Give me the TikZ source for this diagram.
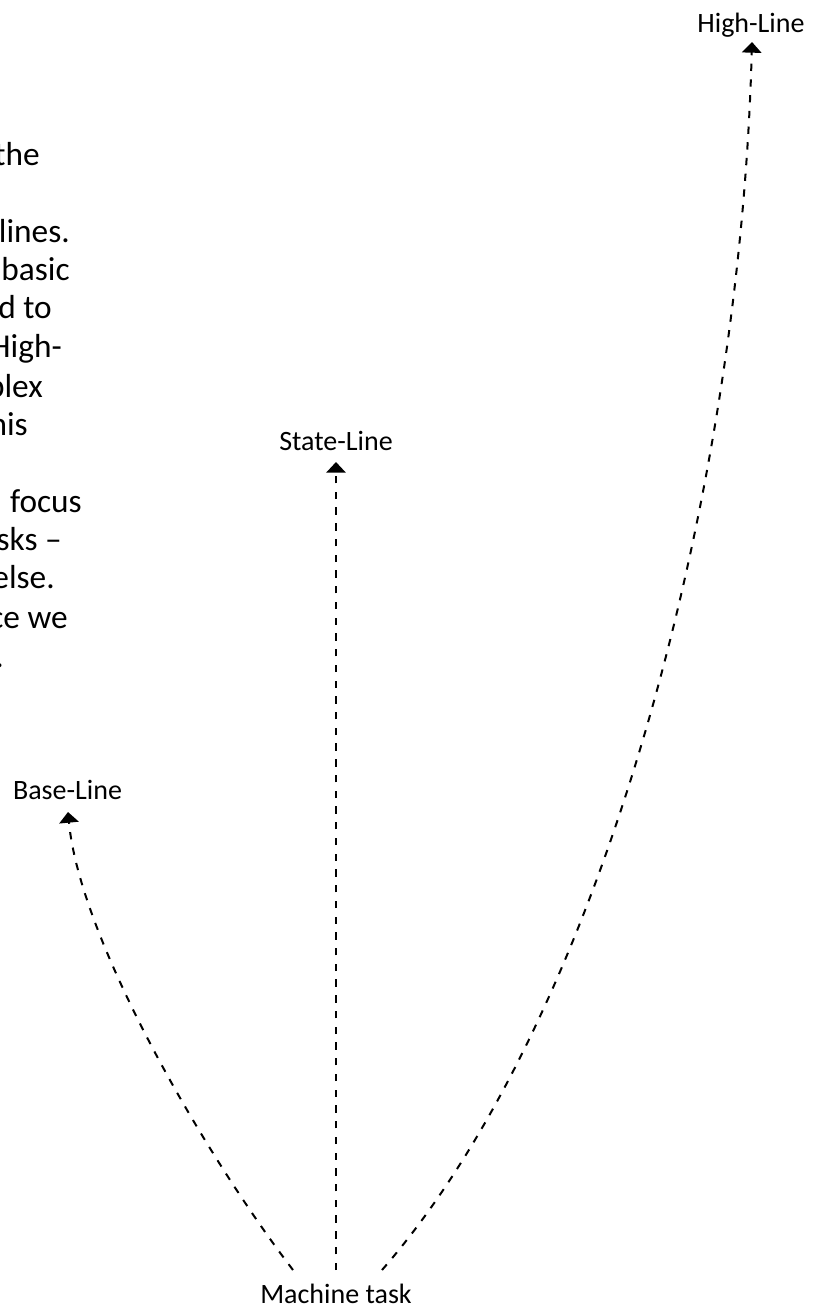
\documentclass[tikz,border=0pt]{standalone}
\usepackage{fontspec}
\setmainfont{Carlito}
\usetikzlibrary{arrows.meta,calc}
\begin{document}
\begin{tikzpicture}[x=0.75pt,y=-0.75pt,
  lbl/.style={font=\fontsize{21}{25}\selectfont, inner sep=0pt, anchor=base},
  frag/.style={font=\fontsize{25}{30}\selectfont, inner sep=0pt, anchor=base east},
  conn/.style={dash pattern=on 5.5pt off 6.3pt, line width=1.5pt, -{Triangle[width=14.5pt,length=8pt]}}]
\useasboundingbox (0,0) rectangle (817,1307);
\clip (0,0) rectangle (817,1307);
% clipped paragraph on the left
\node[frag] (f1) at (40,165) {the};
\node[frag] (f2) at (70,242) {lines.};
\node[frag] (f3) at (70,280) {basic};
\node[frag] (f4) at (52,318) {d to};
\node[frag] (f5) at (62,357) {High-};
\node[frag] (f6) at (43,397) {plex};
\node[frag] (f7) at (28,435) {his};
\node[frag] (f8) at (82,512) {focus};
\node[frag] (f9) at (62,550) {sks –};
\node[frag] (f10) at (55,588) {else.};
\node[frag] (f11) at (68,628) {ce we};
\node[frag] (f12) at (4,667) {.};
% labels
\node[lbl] (mt) at (336,1303) {Machine task};
\node[lbl] (sl) at (336,450) {State-Line};
\node[lbl] (bl) at (67.5,799) {Base-Line};
\node[lbl] (hl) at (751,32) {High-Line};
% connectors
\draw[conn] ($(mt.base)+(0,-33)$) -- ($(sl.base)+(0,12)$);
\draw[conn] ($(mt.base)+(-43,-33)$) .. controls (205,1155) and (80,940) .. ($(bl.base)+(0.5,13)$);
\draw[conn] ($(mt.base)+(46,-33)$) .. controls (600,1020) and (740,500) .. ($(hl.base)+(1,10)$);
\end{tikzpicture}
\end{document}
